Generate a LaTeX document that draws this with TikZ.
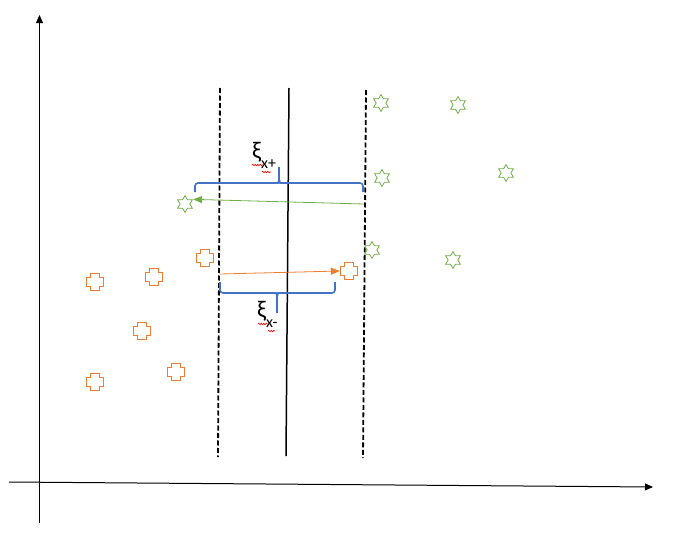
\documentclass[tikz,border=0pt]{standalone}
\usepackage{fontspec}
\setmainfont{Carlito}
\usetikzlibrary{shapes.geometric, arrows.meta, decorations.pathmorphing}
\definecolor{posgreen}{HTML}{70AD47}
\definecolor{negorange}{HTML}{ED7D31}
\definecolor{braceblue}{HTML}{4472C4}
\tikzstyle{posstar} = [star, star points=6, star point ratio=1.75, minimum size=17pt, inner sep=0pt, draw=posgreen, line width=0.8pt]
\tikzstyle{negcross} = [rectangle, minimum size=18pt, inner sep=0pt, path picture={\draw[negorange, line width=1pt, miter limit=4] ([shift={(-4.5pt,-8.5pt)}]path picture bounding box.center) -- ++(9pt,0pt) -- ++(0pt,4pt) -- ++(4pt,0pt) -- ++(0pt,9pt) -- ++(-4pt,0pt) -- ++(0pt,4pt) -- ++(-9pt,0pt) -- ++(0pt,-4pt) -- ++(-4pt,0pt) -- ++(0pt,-9pt) -- ++(4pt,0pt) -- cycle;}]
\tikzstyle{axis} = [line width=1pt, -{Triangle[length=8pt,width=7pt]}]
\tikzstyle{margin} = [line width=1.8pt, dash pattern=on 5pt off 2.5pt]
\tikzstyle{slack} = [line width=0.8pt, -{Triangle[length=9pt,width=7pt]}]
\tikzstyle{brace} = [draw=braceblue, line width=1.6pt, rounded corners=3pt]
\tikzstyle{squiggle} = [red, line width=0.6pt, decorate, decoration={snake, amplitude=0.8pt, segment length=2.5pt}]
\tikzstyle{slacklabel} = [anchor=base west, inner sep=0pt]

\begin{document}
\begin{tikzpicture}[x=1pt, y=-1pt]
\useasboundingbox (0,0) rectangle (680,538);
% axes
\draw[axis] (39.5,523) -- (39.5,15);
\draw[axis] (9,482) -- (653,487);
% hyperplane and margins
\draw[margin] (220,88) -- (218,457);
\draw[line width=1.5pt] (289,88) -- (286,456);
\draw[margin] (366,90) -- (363,458);
% positive class
\node(pos1)[posstar] at (381,103) {};
\node(pos2)[posstar] at (458,105) {};
\node(pos3)[posstar] at (382,178) {};
\node(pos4)[posstar] at (506,173) {};
\node(pos5)[posstar] at (185,204) {};
\node(pos6)[posstar] at (372,250) {};
\node(pos7)[posstar] at (453,260) {};
% negative class
\node(neg1)[negcross] at (205,258) {};
\node(neg2)[negcross] at (95,282) {};
\node(neg3)[negcross] at (154,277) {};
\node(neg4)[negcross] at (349,271) {};
\node(neg5)[negcross] at (142,331) {};
\node(neg6)[negcross] at (176,372) {};
\node(neg7)[negcross] at (95,382) {};
% slack arrows
\coordinate(gstart) at (364,204);
\coordinate(ostart) at (220,274);
\draw[slack, posgreen] (gstart) -- (pos5.30);
\draw[slack, negorange] (ostart) -- (neg4.west);
% braces
\draw[brace] (195,192) |- (275,183) to[out=0,in=-90] (279,178) -- (279,167);
\draw[brace] (279,178) to[out=-90,in=180] (283,183) -| (363,192);
\draw[brace] (220,282) |- (273,293) to[out=0,in=90] (277,297) -- (277,313);
\draw[brace] (277,297) to[out=90,in=180] (281,293) -| (335,282);
% labels
\node(xiplus)[slacklabel] at (252,158) {\fontsize{24}{24}\selectfont ξ\raisebox{-10pt}{\fontsize{16}{16}\selectfont x+}};
\node(ximinus)[slacklabel] at (257,317) {\fontsize{24}{24}\selectfont ξ\raisebox{-10pt}{\fontsize{16}{16}\selectfont x-}};
\draw[squiggle] (252,165) -- (263,165);
\draw[squiggle] (262,172) -- (271,172);
\draw[squiggle] (258,324) -- (268,324);
\draw[squiggle] (268,331) -- (275,331);
\end{tikzpicture}
\end{document}
